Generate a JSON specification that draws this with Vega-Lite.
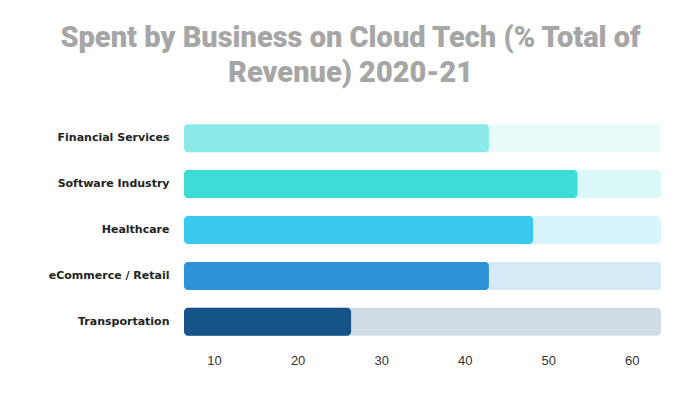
{
  "$schema": "https://vega.github.io/schema/vega-lite/v6.json",
  "width": 477,
  "height": 230,
  "autosize": {"type": "none"},
  "padding": {"left": 184, "top": 115, "right": 39, "bottom": 55},
  "background": "white",
  "title": {
    "text": ["Spent by Business on Cloud Tech (% Total of", "Revenue) 2020-21"],
    "font": "Roboto",
    "fontSize": 29,
    "fontWeight": 900,
    "color": "#A6A6A6",
    "anchor": "middle",
    "frame": "group",
    "dx": -72,
    "offset": 27,
    "lineHeight": 35
  },
  "data": {
    "values": [
      {"sector": "Financial Services", "value": 42.9},
      {"sector": "Software Industry", "value": 53.5},
      {"sector": "Healthcare", "value": 48.2},
      {"sector": "eCommerce / Retail", "value": 42.9},
      {"sector": "Transportation", "value": 26.4}
    ]
  },
  "encoding": {
    "y": {
      "field": "sector",
      "type": "nominal",
      "sort": null,
      "scale": {"paddingInner": 0.39, "paddingOuter": 0.2},
      "axis": {
        "title": null,
        "domain": false,
        "ticks": false,
        "labelFont": "DejaVu Sans",
        "labelFontWeight": "bold",
        "labelFontSize": 11,
        "labelColor": "#222222",
        "labelPadding": 15
      }
    },
    "color": {
      "field": "sector",
      "type": "nominal",
      "sort": null,
      "legend": null,
      "scale": {
        "domain": ["Financial Services", "Software Industry", "Healthcare", "eCommerce / Retail", "Transportation"],
        "range": ["#8BEAE8", "#3FDBD6", "#3AC9EF", "#2E92D8", "#155389"]
      }
    }
  },
  "layer": [
    {
      "mark": {"type": "bar", "cornerRadius": 4, "opacity": 0.2},
      "encoding": {
        "x": {
          "datum": 63.5,
          "type": "quantitative",
          "scale": {"domain": [6.4, 63.5], "zero": false, "nice": false},
          "axis": {
            "title": null,
            "domain": false,
            "ticks": false,
            "grid": false,
            "values": [10, 20, 30, 40, 50, 60],
            "labelFont": "Liberation Sans",
            "labelFontSize": 13,
            "labelColor": "#333333",
            "labelPadding": 9
          }
        },
        "x2": {"datum": 6.4}
      }
    },
    {
      "mark": {"type": "bar", "cornerRadius": 4},
      "encoding": {
        "x": {"field": "value", "type": "quantitative"},
        "x2": {"datum": 6.4}
      }
    }
  ],
  "config": {"view": {"stroke": null}}
}
